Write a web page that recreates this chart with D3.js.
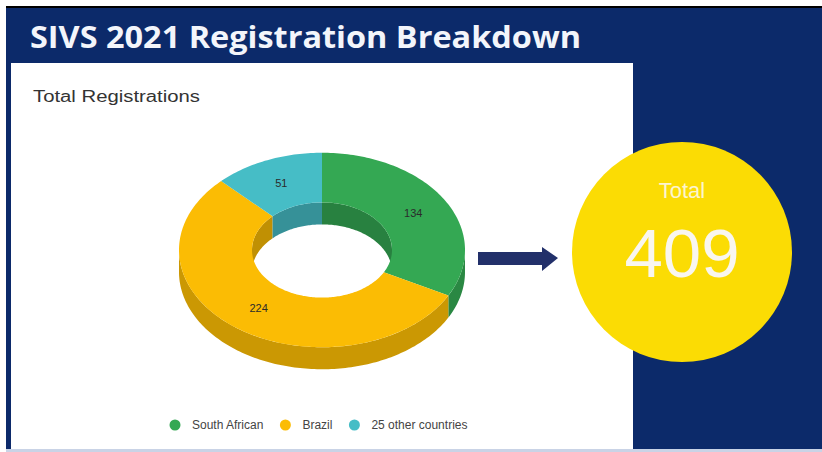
<!DOCTYPE html>
<html>
<head>
<meta charset="utf-8">
<script src="https://cdn.jsdelivr.net/npm/d3@7"></script>
<style>
  html, body { margin: 0; padding: 0; background: #ffffff; }
  svg { display: block; }
</style>
</head>
<body>
<div id="slide"></div>
<script>
// data
var categories = ["South African", "Brazil", "25 other countries"];
var registrations = [134, 224, 51];
var sliceColors = ["#34a853", "#fbbc04", "#46bdc6"];
var titleText = "SIVS 2021 Registration Breakdown";
var chartTitle = "Total Registrations";
var totalLabel = "Total";

var W = 822, H = 452;

var svg = d3.select("#slide").append("svg")
    .attr("width", W)
    .attr("height", H);

// slide background
svg.append("rect").attr("x", 0).attr("y", 0).attr("width", W).attr("height", H).attr("fill", "#ffffff");
svg.append("rect").attr("x", 6).attr("y", 7).attr("width", W - 6).attr("height", H - 7).attr("fill", "#0c2a6a");
svg.append("rect").attr("x", 6).attr("y", 6).attr("width", W - 6).attr("height", 2).attr("fill", "#000000");
svg.append("rect").attr("x", 6).attr("y", 449).attr("width", W - 6).attr("height", 3).attr("fill", "#c9d3e6");

// title
var title = svg.append("text")
    .attr("x", 30)
    .attr("y", 48)
    .attr("fill", "#f3f5fb")
    .style("font-family", "'Open Sans', sans-serif")
    .style("font-weight", "bold")
    .style("font-size", "31px")
    .text(titleText);
title.attr("textLength", 551).attr("lengthAdjust", "spacingAndGlyphs");

// white chart panel
svg.append("rect")
    .attr("x", 11).attr("y", 63)
    .attr("width", 622).attr("height", 386)
    .attr("fill", "#ffffff");

svg.append("text")
    .attr("x", 33)
    .attr("y", 102)
    .attr("fill", "#333333")
    .style("font-family", "'Liberation Sans', Arial, sans-serif")
    .style("font-size", "16px")
    .attr("textLength", 167)
    .attr("lengthAdjust", "spacingAndGlyphs")
    .text(chartTitle);

// 3D donut
var cx = 322, cy = 250, rOut = 143, rIn = 70, tilt = 0.68, depth = 22;

var color = d3.scaleOrdinal().domain(categories).range(sliceColors);

var pie = d3.pie().sort(null).value(function(d){ return d; });
var arcs = pie(registrations);
arcs.forEach(function(a, i){ a.name = categories[i]; });

function proj(a, r, dz){
    return [cx + r * Math.sin(a), cy - r * tilt * Math.cos(a) + dz];
}
function samples(a0, a1){
    var n = Math.max(2, Math.ceil(Math.abs(a1 - a0) / 0.02));
    return d3.range(n + 1).map(function(i){ return a0 + (a1 - a0) * i / n; });
}
var line = d3.line().curve(d3.curveLinear);

function wallPath(a0, a1, r){
    var s = samples(a0, a1);
    var pts = s.map(function(a){ return proj(a, r, 0); })
        .concat(s.slice().reverse().map(function(a){ return proj(a, r, depth); }));
    return line(pts) + "Z";
}
function topPath(a0, a1){
    var s = samples(a0, a1);
    var pts = s.map(function(a){ return proj(a, rOut, 0); })
        .concat(s.slice().reverse().map(function(a){ return proj(a, rIn, 0); }));
    return line(pts) + "Z";
}
function clip(a0, a1, lo, hi){
    var s = Math.max(a0, lo), e = Math.min(a1, hi);
    return s < e ? [s, e] : null;
}

var g = svg.append("g");

// inner walls seen through the hole (back half)
arcs.forEach(function(d){
    [[-Math.PI / 2, Math.PI / 2], [3 * Math.PI / 2, 5 * Math.PI / 2]].forEach(function(rng){
        var c = clip(d.startAngle, d.endAngle, rng[0], rng[1]);
        if (c) g.append("path")
            .attr("d", wallPath(c[0], c[1], rIn))
            .attr("fill", d3.color(color(d.name)).darker(0.75));
    });
});

// outer walls (front half)
arcs.forEach(function(d){
    var c = clip(d.startAngle, d.endAngle, Math.PI / 2, 3 * Math.PI / 2);
    if (c) g.append("path")
        .attr("d", wallPath(c[0], c[1], rOut))
        .attr("fill", d3.color(color(d.name)).darker(0.6));
});

// top faces
g.selectAll("path.top")
    .data(arcs)
    .enter()
    .append("path")
    .attr("class", "top")
    .attr("d", function(d){ return topPath(d.startAngle, d.endAngle); })
    .attr("fill", function(d){ return color(d.name); });

// slice labels
g.selectAll("text.val")
    .data(arcs)
    .enter()
    .append("text")
    .attr("class", "val")
    .attr("x", function(d){ return proj((d.startAngle + d.endAngle) / 2, (rOut + rIn) / 2, 0)[0]; })
    .attr("y", function(d){ return proj((d.startAngle + d.endAngle) / 2, (rOut + rIn) / 2, 0)[1] + 4; })
    .attr("text-anchor", "middle")
    .attr("fill", "#2b2b2b")
    .style("font-family", "'Liberation Sans', Arial, sans-serif")
    .style("font-size", "11px")
    .text(function(d){ return d.value; });

// legend
var legend = svg.append("g");
var lx = 175;
categories.forEach(function(c){
    legend.append("circle").attr("cx", lx).attr("cy", 425).attr("r", 5.5).attr("fill", color(c));
    var t = legend.append("text")
        .attr("x", lx + 17)
        .attr("y", 429)
        .attr("fill", "#444444")
        .style("font-family", "'Liberation Sans', Arial, sans-serif")
        .style("font-size", "12px")
        .text(c);
    lx += 17 + t.node().getComputedTextLength() + 22;
});

// arrow
svg.append("path")
    .attr("d", line([[478, 252], [542, 252], [542, 247], [558, 258], [542, 271], [542, 265], [478, 265]]) + "Z")
    .attr("fill", "#22306a");

// total bubble
svg.append("circle")
    .attr("cx", 682).attr("cy", 252).attr("r", 110)
    .attr("fill", "#fbdc04");
svg.append("text")
    .attr("x", 682).attr("y", 198)
    .attr("text-anchor", "middle")
    .attr("fill", "#fcf4d0")
    .style("font-family", "'Liberation Sans', Arial, sans-serif")
    .style("font-size", "22px")
    .text(totalLabel);
svg.append("text")
    .attr("x", 682).attr("y", 277)
    .attr("text-anchor", "middle")
    .attr("fill", "#f9f6ef")
    .style("font-family", "'Liberation Sans', Arial, sans-serif")
    .style("font-size", "69px")
    .text(d3.sum(registrations));
</script>
</body>
</html>
